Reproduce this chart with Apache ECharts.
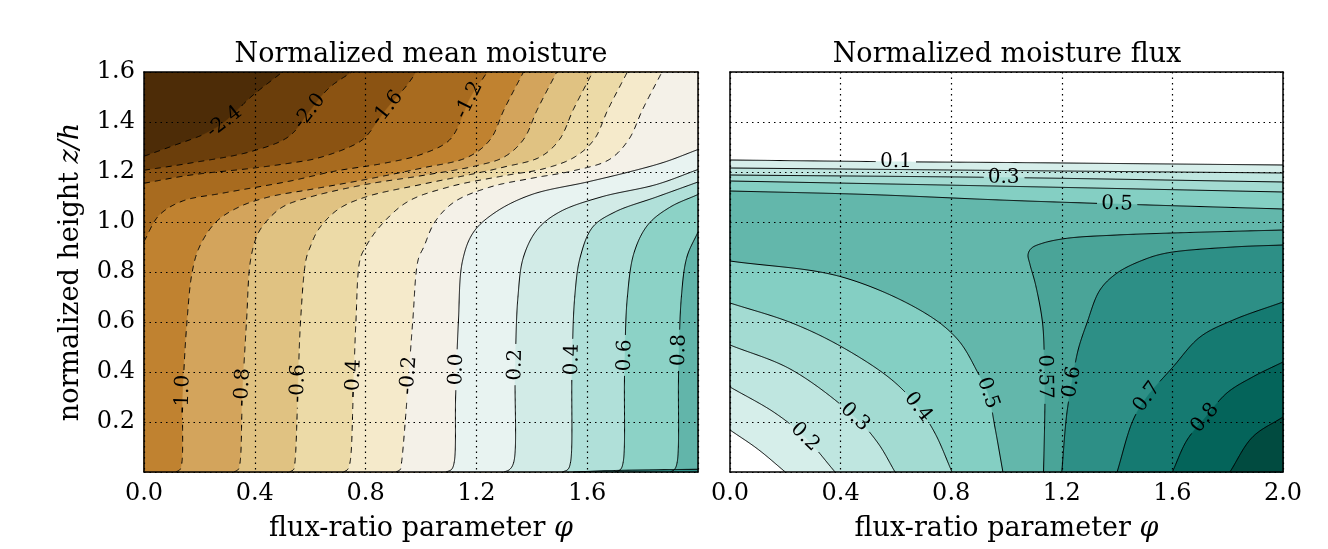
<!DOCTYPE html>
<html><head><meta charset="utf-8">
<script src="https://cdn.jsdelivr.net/npm/echarts@6.0.0/dist/echarts.min.js"></script>
<style>html,body{margin:0;padding:0;background:#fff}#c{width:1328px;height:549px}</style>
</head><body><div id="c"></div>
<script>
// ---------------- DATA ----------------
const xTickValues = [0.0, 0.4, 0.8, 1.2, 1.6, 2.0];
const yTickValues = [0.2, 0.4, 0.6, 0.8, 1.0, 1.2, 1.4, 1.6];
const titles = ['Normalized mean moisture', 'Normalized moisture flux'];

// Left panel: contour levels and band colours (band below first level, then above each level)
const leftLevels = [-2.4, -2.0, -1.6, -1.2, -1.0, -0.8, -0.6, -0.4, -0.2, 0.0, 0.2, 0.4, 0.6, 0.8, 1.0];
const leftColors = ['#4d2c07', '#6b3e0b', '#8b5312', '#a86b1f', '#c08230', '#d3a45c', '#e0c282',
  '#ecdaa7', '#f5eacb', '#f4f1e8', '#e8f3f1', '#d2ebe7', '#b0e0d9', '#8cd2c6', '#62b5aa', '#2f9088'];

// Left panel contour lines [phi, z] (each line is oriented with higher values on its right)
const m24 = [[0,1.263],[0.1,1.303],[0.224,1.355],[0.29,1.40],[0.39,1.504],[0.5,1.6]];
const m20 = [[0,1.207],[0.163,1.235],[0.39,1.283],[0.524,1.343],[0.596,1.44],[0.668,1.536],[0.75,1.6]];
const m16 = [[0,1.155],[0.163,1.187],[0.39,1.215],[0.524,1.235],[0.625,1.255],[0.748,1.303],[0.795,1.335],[0.878,1.455],[0.95,1.548],[0.983,1.6]];
const m12 = [[0,0.922],[0.054,1.026],[0.137,1.083],[0.282,1.115],[0.524,1.163],[0.687,1.203],[0.867,1.235],[1.0,1.27],[1.102,1.327],[1.149,1.419],[1.174,1.488],[1.239,1.6]];
const m10 = [[0.115,0],[0.13,0.01],[0.137,0.04],[0.14,0.3],[0.155,0.6],[0.174,0.8],[0.2,0.9],[0.26,1.0],[0.343,1.06],[0.45,1.1],[0.6,1.13],[0.8,1.17],[1.0,1.215],[1.17,1.26],[1.25,1.33],[1.30,1.45],[1.37,1.6]];
const m08 = [[0.325,0],[0.34,0.01],[0.347,0.04],[0.355,0.3],[0.37,0.6],[0.385,0.85],[0.41,0.95],[0.44,1.0],[0.5,1.06],[0.6,1.1],[0.8,1.15],[1.0,1.185],[1.2,1.225],[1.30,1.26],[1.37,1.33],[1.42,1.45],[1.49,1.6]];
const m06 = [[0.525,0],[0.54,0.01],[0.545,0.04],[0.555,0.3],[0.565,0.6],[0.585,0.85],[0.6,0.9],[0.63,0.97],[0.7,1.05],[0.8,1.1],[1.0,1.15],[1.2,1.195],[1.3,1.22],[1.43,1.26],[1.50,1.33],[1.55,1.45],[1.62,1.6]];
const m04 = [[0.72,0],[0.735,0.01],[0.744,0.04],[0.755,0.3],[0.765,0.6],[0.78,0.85],[0.8,0.9],[0.85,0.98],[0.95,1.08],[1.1,1.14],[1.3,1.185],[1.45,1.215],[1.555,1.26],[1.625,1.33],[1.675,1.45],[1.745,1.6]];
const m02 = [[0.91,0],[0.925,0.01],[0.93,0.04],[0.95,0.3],[0.97,0.6],[0.99,0.85],[1.01,0.9],[1.05,1.0],[1.12,1.08],[1.25,1.14],[1.4,1.175],[1.55,1.205],[1.68,1.25],[1.75,1.33],[1.80,1.45],[1.87,1.6]];
const p00 = [[1.09,0],[1.11,0.01],[1.12,0.04],[1.125,0.3],[1.135,0.6],[1.15,0.845],[1.19,0.96],[1.27,1.04],[1.4,1.11],[1.6,1.16],[1.75,1.2],[1.88,1.24],[2.0,1.29]];
const p02 = [[1.30,0],[1.32,0.01],[1.335,0.04],[1.34,0.4],[1.35,0.7],[1.37,0.86],[1.42,0.97],[1.5,1.04],[1.65,1.1],[1.85,1.15],[2.0,1.21]];
const p04 = [[1.51,0],[1.53,0.01],[1.54,0.04],[1.545,0.4],[1.555,0.7],[1.575,0.86],[1.62,0.98],[1.7,1.04],[1.85,1.1],[2.0,1.16]];
const p06 = [[1.70,0],[1.72,0.01],[1.73,0.04],[1.735,0.4],[1.745,0.7],[1.77,0.88],[1.82,0.99],[1.9,1.06],[2.0,1.11]];
const p08 = [[1.9,0],[1.915,0.01],[1.925,0.04],[1.93,0.4],[1.94,0.7],[1.96,0.86],[2.0,0.96]];
const p10 = [[1.55,0],[1.7,0.006],[2.0,0.011]];
const leftLines = [m24, m20, m16, m12, m10, m08, m06, m04, m02, p00, p02, p04, p06, p08, p10];
// label anchor for each left line [phi, z] (null = unlabelled)
const leftLabelAnchors = [[0.29,1.40],[0.596,1.447],[0.878,1.455],[1.174,1.488],[0.145,0.31],[0.352,0.34],[0.55,0.356],[0.755,0.376],[0.955,0.388],[1.13,0.41],[1.34,0.428],[1.549,0.448],[1.735,0.468],[1.935,0.488], null];

// Right panel
const rightLevels = [0.1, 0.2, 0.3, 0.4, 0.5, 0.57, 0.6, 0.7, 0.8, 0.9];
const rightLevelText = ['0.1', '0.2', '0.3', '0.4', '0.5', '0.57', '0.6', '0.7', '0.8', '0.9'];
const rightColors = ['#ffffff', '#d6eeea', '#bfe6e0', '#a3dbd2', '#84cfc3', '#63b7ab', '#4aa498',
  '#2d8f86', '#157a71', '#04645a', '#014b40'];
const top01 = [[0,1.248],[0.6,1.241],[1.0,1.238],[1.5,1.233],[2.0,1.228]];
const top02 = [[0,1.216],[1.0,1.206],[2.0,1.196]];
const top03 = [[0,1.188],[0.99,1.178],[2.0,1.16]];
const top04 = [[0,1.164],[1.0,1.143],[2.0,1.12]];
const top05 = [[0,1.124],[0.5,1.11],[1.0,1.087],[1.4,1.072],[2.0,1.052]];
const low01 = [[0.2,0],[0.1,0.092],[0,0.168]];
const low02 = [[0.38,0],[0.271,0.14],[0.163,0.236],[0,0.34]];
const low03 = [[0.597,0],[0.535,0.116],[0.452,0.22],[0.224,0.408],[0,0.508]];
const low04 = [[0.803,0],[0.741,0.156],[0.68,0.26],[0.586,0.368],[0.405,0.5],[0.224,0.596],[0,0.676]];
const low05 = [[0.987,0],[0.958,0.18],[0.933,0.316],[0.897,0.396],[0.825,0.528],[0.705,0.636],[0.405,0.78],[0,0.844]];
const l057 = [[1.134,0],[1.138,0.2],[1.139,0.3],[1.137,0.45],[1.13,0.6],[1.105,0.75],[1.085,0.83],[1.078,0.87],[1.09,0.895],[1.13,0.915],[1.22,0.935],[1.4,0.948],[1.6,0.956],[2.0,0.968]];
const l06 = [[1.2,0],[1.218,0.232],[1.237,0.36],[1.259,0.488],[1.291,0.596],[1.338,0.728],[1.4,0.796],[1.494,0.848],[1.58,0.876],[1.82,0.9],[2.0,0.908]];
const l07 = [[1.4,0],[1.458,0.208],[1.508,0.3],[1.602,0.42],[1.7,0.54],[1.82,0.608],[2.0,0.68]];
const l08 = [[1.6,0],[1.653,0.128],[1.718,0.216],[1.797,0.316],[1.89,0.38],[2.0,0.44]];
const l09 = [[1.808,0],[1.89,0.14],[2.0,0.22]];
// lines of each right level
const rightLevelLines = [[top01, low01], [top02, low02], [top03, low03], [top04, low04], [top05, low05], [l057], [l06], [l07], [l08], [l09]];
// right labels: [level index, line index within level, phi, z]
const rightLabelAnchors = [[0,0,0.6,1.241],[2,0,0.99,1.178],[4,0,1.4,1.072],
  [1,1,0.271,0.14],[2,1,0.452,0.22],[3,1,0.68,0.26],[4,1,0.933,0.316],
  [5,0,1.15,0.38],[6,0,1.237,0.36],[7,0,1.508,0.3],[8,0,1.718,0.216]];

// ---------------- RENDERING HELPERS ----------------
const FONT = '"DejaVu Serif", serif';
const XMAX = 2, ZMAX = 1.6, PER = 2 * (XMAX + ZMAX);
const corners = [[0, [0, ZMAX]], [XMAX, [XMAX, ZMAX]], [XMAX + ZMAX, [XMAX, 0]], [2 * XMAX + ZMAX, [0, 0]]];
function perim(p) {
  const e = 1e-6, x = p[0], z = p[1];
  if (Math.abs(z - ZMAX) < e) return x;
  if (Math.abs(x - XMAX) < e) return XMAX + (ZMAX - z);
  if (Math.abs(z) < e) return XMAX + ZMAX + (XMAX - x);
  return 2 * XMAX + ZMAX + z;
}
function walk(from, to) {
  const d = ((to - from) % PER + PER) % PER;
  return corners.map(c => ({ d: ((c[0] - from) % PER + PER) % PER, p: c[1] }))
    .filter(c => c.d > 1e-9 && c.d < d - 1e-9).sort((a, b) => a.d - b.d).map(c => c.p);
}
// centripetal Catmull-Rom smoothing of a pixel path (rendering only)
function smoothPx(pts, box) {
  if (pts.length < 3) return pts.slice();
  const dd = (a, b) => Math.max(1e-4, Math.pow(Math.hypot(b[0] - a[0], b[1] - a[1]), 0.5));
  const L = (a, b, wa, wb) => [a[0] * wa + b[0] * wb, a[1] * wa + b[1] * wb];
  const out = [pts[0]];
  for (let i = 0; i < pts.length - 1; i++) {
    const p1 = pts[i], p2 = pts[i + 1];
    const p0 = i > 0 ? pts[i - 1] : [2 * p1[0] - p2[0], 2 * p1[1] - p2[1]];
    const p3 = i + 2 < pts.length ? pts[i + 2] : [2 * p2[0] - p1[0], 2 * p2[1] - p1[1]];
    const t0 = 0, t1 = t0 + dd(p0, p1), t2 = t1 + dd(p1, p2), t3 = t2 + dd(p2, p3);
    const n = Math.max(2, Math.ceil(Math.hypot(p2[0] - p1[0], p2[1] - p1[1])));
    for (let k = 1; k <= n; k++) {
      const t = t1 + (t2 - t1) * k / n;
      const A1 = L(p0, p1, (t1 - t) / (t1 - t0), (t - t0) / (t1 - t0));
      const A2 = L(p1, p2, (t2 - t) / (t2 - t1), (t - t1) / (t2 - t1));
      const A3 = L(p2, p3, (t3 - t) / (t3 - t2), (t - t2) / (t3 - t2));
      const B1 = L(A1, A2, (t2 - t) / (t2 - t0), (t - t0) / (t2 - t0));
      const B2 = L(A2, A3, (t3 - t) / (t3 - t1), (t - t1) / (t3 - t1));
      const C = L(B1, B2, (t2 - t) / (t2 - t1), (t - t1) / (t2 - t1));
      C[0] = Math.min(box[2], Math.max(box[0], C[0]));
      C[1] = Math.min(box[3], Math.max(box[1], C[1]));
      out.push(C);
    }
  }
  return out;
}
function boxOf(api) {
  const a = api.coord([0, 0]), b = api.coord([XMAX, ZMAX]);
  return [Math.min(a[0], b[0]), Math.min(a[1], b[1]), Math.max(a[0], b[0]), Math.max(a[1], b[1])];
}
function regionPx(pieces, api, box) {
  let pts = [];
  pieces.forEach((pc, i) => {
    pts = pts.concat(smoothPx(pc.map(p => api.coord(p)), box));
    const nxt = pieces[(i + 1) % pieces.length];
    pts = pts.concat(walk(perim(pc[pc.length - 1]), perim(nxt[0])).map(p => api.coord(p)));
  });
  return pts;
}
const mctx = document.createElement('canvas').getContext('2d');
function textW(t, fs) { mctx.font = fs + 'px ' + FONT; return mctx.measureText(t).width; }

function fillRenderer(colors, regionList) {
  return function (params, api) {
    const box = boxOf(api);
    const ch = [];
    const rect = [[0, 0], [XMAX, 0], [XMAX, ZMAX], [0, ZMAX]];
    ch.push({ type: 'polygon', shape: { points: rect.map(p => api.coord(p)) }, style: { fill: colors[0] } });
    regionList.forEach((pieces, i) => {
      ch.push({ type: 'polygon', shape: { points: regionPx(pieces, api, box) },
        style: { fill: colors[i + 1], stroke: colors[i + 1], lineWidth: 0.5 } });
    });
    return { type: 'group', children: ch };
  };
}
function lineRenderer(lineDefs, fs) {
  return function (params, api) {
    const box = boxOf(api);
    const ch = [];
    lineDefs.forEach(ln => {
      const dense = smoothPx(ln.pts.map(p => api.coord(p)), box);
      const cuts = [];
      ln.labels.forEach(lb => {
        const t = api.coord(lb.at);
        let bi = 0, bd = 1e9;
        dense.forEach((p, i) => { const d = Math.hypot(p[0] - t[0], p[1] - t[1]); if (d < bd) { bd = d; bi = i; } });
        const i0 = Math.max(0, bi - 8), i1 = Math.min(dense.length - 1, bi + 8);
        let ang = Math.atan2(-(dense[i1][1] - dense[i0][1]), dense[i1][0] - dense[i0][0]);
        if (ang > Math.PI / 2) ang -= Math.PI;
        if (ang <= -Math.PI / 2) ang += Math.PI;
        const w = textW(lb.text, fs);
        cuts.push({ c: dense[bi], r: w / 2 + 4 });
        ch.push({ type: 'text', x: dense[bi][0], y: dense[bi][1], rotation: ang, z2: 10,
          style: { text: lb.text, fill: '#000', font: fs + 'px ' + FONT, align: 'center', verticalAlign: 'middle' } });
      });
      let seg = [];
      const flush = () => {
        if (seg.length > 1) ch.push({ type: 'polyline', shape: { points: seg },
          style: { stroke: '#000', lineWidth: 1, fill: null, lineDash: ln.dashed ? [6, 5] : null } });
        seg = [];
      };
      dense.forEach(p => {
        if (cuts.some(c => Math.hypot(p[0] - c.c[0], p[1] - c.c[1]) < c.r)) flush(); else seg.push(p);
      });
      flush();
    });
    return { type: 'group', children: ch };
  };
}

// build definitions from data
const leftRegions = leftLines.map(l => [l]);
const leftLineDefs = leftLines.map((l, i) => ({
  pts: l, dashed: leftLevels[i] < 0,
  labels: leftLabelAnchors[i] ? [{ at: leftLabelAnchors[i], text: leftLevels[i].toFixed(1) }] : []
}));
const rightRegions = rightLevelLines;
const rightLineDefs = [];
rightLevelLines.forEach((lines, li) => lines.forEach((l, k) => {
  rightLineDefs.push({ pts: l, dashed: false,
    labels: rightLabelAnchors.filter(a => a[0] === li && a[1] === k).map(a => ({ at: [a[2], a[3]], text: rightLevelText[li] })) });
}));

// ---------------- CHART ----------------
const chart = echarts.init(document.getElementById('c'), null, { renderer: 'canvas' });
const tickFs = 24, nameFs = 27, labelFs = 20;
const dotted = { color: '#000', width: 1.2, type: [1.5, 4] };
function xBottom(grid, hideLast) {
  return { gridIndex: grid, type: 'value', min: 0, max: XMAX, interval: 0.4, position: 'bottom', z: 10,
    axisLine: { show: true, onZero: false, lineStyle: { color: '#000', width: 1.5 } },
    axisTick: { show: false },
    axisLabel: { margin: 10, color: '#000', fontFamily: FONT, fontSize: tickFs,
      formatter: v => (hideLast && v > 1.99) ? '' : (xTickValues.some(t => Math.abs(t - v) < 1e-6) ? v.toFixed(1) : '') },
    splitLine: { show: true, lineStyle: dotted },
    name: 'flux-ratio parameter {i|φ}', nameLocation: 'middle', nameGap: 43,
    nameTextStyle: { color: '#000', fontFamily: FONT, fontSize: nameFs,
      rich: { i: { fontStyle: 'italic', fontFamily: FONT, fontSize: nameFs, color: '#000' } } } };
}
function frameAxis(grid, pos, isX) {
  return { gridIndex: grid, type: 'value', min: 0, max: isX ? XMAX : ZMAX, position: pos, z: 10,
    axisLine: { show: true, onZero: false, lineStyle: { color: '#000', width: 1.5 } },
    axisTick: { show: false }, axisLabel: { show: false }, splitLine: { show: false } };
}
function yLeft(grid, withLabels) {
  return { gridIndex: grid, type: 'value', min: 0, max: ZMAX, interval: 0.2, position: 'left', z: 10,
    axisLine: { show: true, onZero: false, lineStyle: { color: '#000', width: 1.5 } },
    axisTick: { show: false },
    axisLabel: { show: withLabels, margin: 9, color: '#000', fontFamily: FONT, fontSize: tickFs,
      formatter: v => yTickValues.some(t => Math.abs(t - v) < 1e-6) ? v.toFixed(1) : '' },
    splitLine: { show: true, lineStyle: dotted },
    name: withLabels ? 'normalized height {i|z/h}' : '', nameLocation: 'middle', nameGap: 60,
    nameTextStyle: { color: '#000', fontFamily: FONT, fontSize: nameFs,
      rich: { i: { fontStyle: 'italic', fontFamily: FONT, fontSize: nameFs, color: '#000' } } } };
}
chart.setOption({
  animation: false,
  backgroundColor: '#fff',
  title: [
    { text: titles[0], left: 416, top: 36, textAlign: 'center', textStyle: { fontFamily: FONT, fontSize: nameFs, fontWeight: 'normal', color: '#000' } },
    { text: titles[1], left: 1002, top: 36, textAlign: 'center', textStyle: { fontFamily: FONT, fontSize: nameFs, fontWeight: 'normal', color: '#000' } }
  ],
  grid: [
    { left: 144, top: 72, width: 554, height: 400 },
    { left: 730, top: 72, width: 553, height: 400 }
  ],
  xAxis: [xBottom(0, true), frameAxis(0, 'top', true), xBottom(1, false), frameAxis(1, 'top', true)],
  yAxis: [yLeft(0, true), frameAxis(0, 'right', false), yLeft(1, false), frameAxis(1, 'right', false)],
  series: [
    { type: 'custom', xAxisIndex: 0, yAxisIndex: 0, z: 1, silent: true, clip: false, data: [[0, 0]],
      renderItem: fillRenderer(leftColors, leftRegions) },
    { type: 'custom', xAxisIndex: 0, yAxisIndex: 0, z: 20, silent: true, clip: false, data: [[0, 0]],
      renderItem: lineRenderer(leftLineDefs, labelFs) },
    { type: 'custom', xAxisIndex: 2, yAxisIndex: 2, z: 1, silent: true, clip: false, data: [[0, 0]],
      renderItem: fillRenderer(rightColors, rightRegions) },
    { type: 'custom', xAxisIndex: 2, yAxisIndex: 2, z: 20, silent: true, clip: false, data: [[0, 0]],
      renderItem: lineRenderer(rightLineDefs, labelFs) }
  ]
});
</script></body></html>
